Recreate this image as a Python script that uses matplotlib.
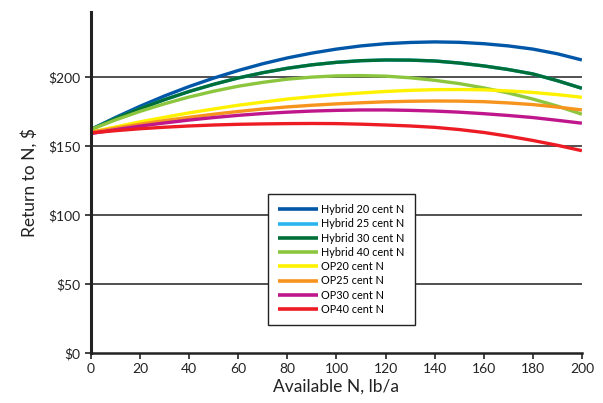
import matplotlib
matplotlib.use("Agg")
import matplotlib.pyplot as plt

x_n = [0, 10, 20, 30, 40, 50, 60, 70, 80, 90, 100, 110, 120, 130, 140, 150, 160, 170, 180, 190, 200]

hybrid20 = [162, 170.7, 178.8, 186.3, 193.1, 199.2, 204.7, 209.6, 213.8, 217.3, 220.2,
            222.5, 224.1, 225.0, 225.4, 225.1, 224.1, 222.5, 220.2, 216.8, 212.3]
hybrid30 = [162, 170.0, 177.1, 183.6, 189.5, 194.7, 199.3, 203.1, 206.3, 208.8, 210.6,
            211.8, 212.3, 212.2, 211.6, 210.1, 208.0, 205.4, 202.2, 197.3, 191.8]
hybrid25 = hybrid30
hybrid40 = [162, 168.9, 175.1, 180.6, 185.5, 189.7, 193.3, 196.1, 198.4, 199.9, 200.8,
            201.0, 200.6, 199.4, 197.6, 195.2, 192.1, 188.4, 184.0, 178.9, 173.0]
op20 = [160, 163.8, 167.5, 170.8, 174.0, 176.8, 179.5, 181.8, 184.0, 185.7, 187.2,
        188.4, 189.5, 190.3, 190.8, 190.9, 190.7, 189.9, 188.8, 187.2, 185.3]
op25 = [160, 162.9, 165.8, 168.4, 170.8, 173.0, 175.0, 176.8, 178.3, 179.5, 180.5,
        181.3, 182.0, 182.4, 182.6, 182.5, 182.1, 181.2, 180.0, 178.2, 176.1]
op30 = [159, 161.8, 164.4, 166.7, 168.8, 170.6, 172.2, 173.5, 174.5, 175.3, 175.8,
        176.1, 176.1, 175.8, 175.3, 174.5, 173.4, 172.1, 170.6, 168.6, 166.5]
op40 = [159.5, 161.1, 162.5, 163.6, 164.5, 165.2, 165.7, 166.0, 166.2, 166.3, 166.2,
        165.8, 165.2, 164.5, 163.5, 161.9, 159.8, 157.1, 154.0, 150.5, 146.6]

series_names = ["Hybrid 20 cent N", "Hybrid 25 cent N", "Hybrid 30 cent N", "Hybrid 40 cent N",
                "OP20 cent N", "OP25 cent N", "OP30 cent N", "OP40 cent N"]
series_values = [hybrid20, hybrid25, hybrid30, hybrid40, op20, op25, op30, op40]
series_colors = ["#0057a8", "#29b6f0", "#006f37", "#8cc63f", "#fff200", "#f7941d", "#c0168c", "#ed1c24"]

y_ticks = [0, 50, 100, 150, 200]
y_ticklabels = ["$0", "$50", "$100", "$150", "$200"]
x_ticks = list(range(0, 201, 20))

plt.rcParams['font.family'] = ['Lato', 'DejaVu Sans']

fig = plt.figure(figsize=(6.03, 4.03), dpi=100)
ax = fig.add_axes([0.151, 0.124, 0.814, 0.846])

for yv in [50, 100, 150, 200]:
    ax.plot([0, 200], [yv, yv], color="#222222", lw=1.1, zorder=1)

for name, vals, col in zip(series_names, series_values, series_colors):
    ax.plot(x_n, vals, color=col, lw=2.4, label=name, zorder=2,
            solid_capstyle='butt', solid_joinstyle='round')

ax.set_xlim(0, 200)
ax.set_ylim(0, 247)
ax.set_xticks(x_ticks)
ax.set_yticks(y_ticks)
ax.set_yticklabels(y_ticklabels)
ax.spines['top'].set_visible(False)
ax.spines['right'].set_visible(False)
ax.spines['left'].set_linewidth(2.2)
ax.spines['bottom'].set_linewidth(1.8)
ax.spines['left'].set_color("#222222")
ax.spines['bottom'].set_color("#222222")
ax.tick_params(axis='both', direction='out', length=4, width=1.2, labelsize=10, colors="#222222")
ax.tick_params(axis='x', pad=3)
ax.set_xlabel("Available N, lb/a", fontsize=12.5, color="#222222", labelpad=3)
ax.set_ylabel("Return to N, $", fontsize=12.5, color="#222222", labelpad=8)

leg = ax.legend(loc='upper left', bbox_to_anchor=(0.36, 0.465), fontsize=7.8,
                frameon=True, fancybox=False, edgecolor="#222222", framealpha=1,
                handlelength=3.7, handletextpad=0.35, labelspacing=0.3,
                borderpad=0.9, borderaxespad=0)
leg.get_frame().set_linewidth(1.0)
for line in leg.get_lines():
    line.set_linewidth(2.6)

fig.savefig("out.png", dpi=100)
